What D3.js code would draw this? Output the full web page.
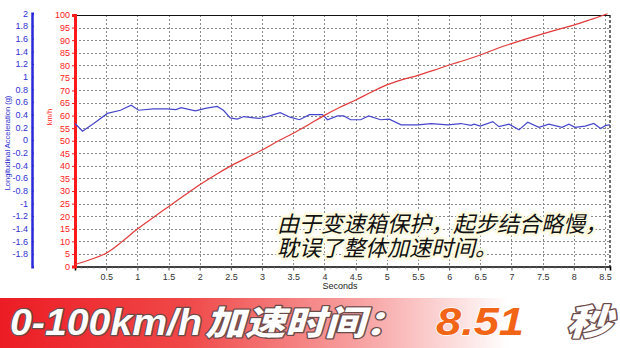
<!DOCTYPE html>
<html>
<head>
<meta charset="utf-8">
<script src="https://cdn.jsdelivr.net/npm/d3@7"></script>
<style>
  body { margin: 0; background: #fff; }
  svg { display: block; }
</style>
</head>
<body>
<div id="chart-area"></div>
<script>
// speed trace (km/h) against time (s)
const speedT = [0, 0.25, 0.5, 0.75, 1, 1.25, 1.5, 1.75, 2, 2.25, 2.5, 2.75, 3, 3.25, 3.5, 3.75, 4, 4.25, 4.5,
  4.75, 5, 5.25, 5.5, 5.75, 6, 6.25, 6.5, 6.75, 7, 7.25, 7.5, 7.75, 8, 8.25, 8.54];
const speedV = [0.8, 2.8, 5.3, 9.8, 14.9, 19.4, 23.8, 28.2, 32.5, 36.4, 40, 43.2, 46.3, 49.8, 53, 56.5, 60.1, 63.3, 66.2,
  69.3, 72.2, 74.3, 76, 78, 80.1, 82, 84.1, 86.5, 88.6, 90.6, 92.5, 94.3, 96, 98, 100.5];

// longitudinal acceleration (g) against time (s)
const accelT = [0, 0.12, 0.3, 0.52, 0.73, 0.9, 1.02, 1.26, 1.47, 1.62, 1.7, 1.93, 2.09, 2.28, 2.38, 2.49, 2.6, 2.71,
  2.96, 3.12, 3.29, 3.45, 3.6, 3.76, 3.97, 4.05, 4.21, 4.31, 4.42, 4.58, 4.71, 4.9, 5.04, 5.23, 5.5, 5.71, 5.98,
  6.19, 6.35, 6.4, 6.5, 6.7, 6.8, 6.96, 7.12, 7.26, 7.44, 7.6, 7.81, 7.92, 8.02, 8.18, 8.32, 8.43, 8.51, 8.58];
const accelG = [0.26, 0.14, 0.26, 0.42, 0.47, 0.55, 0.47, 0.49, 0.49, 0.48, 0.51, 0.46, 0.5, 0.53, 0.47, 0.35, 0.33, 0.37,
  0.34, 0.38, 0.43, 0.36, 0.32, 0.4, 0.4, 0.32, 0.38, 0.38, 0.32, 0.32, 0.38, 0.32, 0.33, 0.24, 0.24, 0.26, 0.24,
  0.26, 0.23, 0.25, 0.22, 0.29, 0.21, 0.25, 0.16, 0.28, 0.2, 0.25, 0.2, 0.25, 0.2, 0.22, 0.26, 0.18, 0.23, 0.24];

const timeTicks = [0.5, 1, 1.5, 2, 2.5, 3, 3.5, 4, 4.5, 5, 5.5, 6, 6.5, 7, 7.5, 8, 8.5];
const speedTicks = d3.range(0, 101, 5);
const accelTicks = d3.range(-20, 21, 2).map(d => d / 10);

const noteLines = ["由于变速箱保护，起步结合略慢，", "耽误了整体加速时间。"];
const bannerParts = ["0-100km/h", "加速时间：", "8.51", "秒"];

const W = 620, H = 348;
const plot = {left: 75, right: 610, top: 15, bottom: 266.5};
const axisFont = "Liberation Sans, Arial, sans-serif";

const svg = d3.select("#chart-area").append("svg")
    .attr("width", W)
    .attr("height", H);

const x = d3.scaleLinear().domain([0, 8.58]).range([plot.left, plot.right]);
const ySpeed = d3.scaleLinear().domain([0, 100]).range([plot.bottom, plot.top]);
const yAcc = d3.scaleLinear().domain([-2, 2]).range([266.7, 13.3]);

// plain hyphen minus like the original software
const plainFmt = d => String(d).replace("\u2212", "-");

// dotted grid
const grid = svg.append("g").attr("stroke", "#8a8a8a").attr("stroke-width", 1).attr("stroke-dasharray", "2,2");
grid.selectAll("line.v").data(timeTicks).join("line")
    .attr("x1", d => Math.round(x(d)) + 0.5).attr("x2", d => Math.round(x(d)) + 0.5)
    .attr("y1", plot.top).attr("y2", plot.bottom);
grid.selectAll("line.h").data(speedTicks.slice(1, -1)).join("line")
    .attr("x1", plot.left).attr("x2", plot.right)
    .attr("y1", d => Math.round(ySpeed(d)) + 0.5).attr("y2", d => Math.round(ySpeed(d)) + 0.5);

// frame: top solid, right dashed
svg.append("line").attr("x1", plot.left).attr("x2", plot.right).attr("y1", plot.top + 0.5).attr("y2", plot.top + 0.5)
    .attr("stroke", "#111").attr("stroke-width", 1.2);
svg.append("line").attr("x1", plot.right).attr("x2", plot.right).attr("y1", plot.top).attr("y2", plot.bottom)
    .attr("stroke", "#222").attr("stroke-width", 1.3).attr("stroke-dasharray", "3,2");

// bottom axis (seconds)
const xAxis = svg.append("g").attr("transform", `translate(0,${plot.bottom})`)
    .call(d3.axisBottom(x).tickValues(timeTicks).tickSize(4).tickPadding(3).tickFormat(d3.format("")));
xAxis.select(".domain").attr("stroke", "#000").attr("stroke-width", 1.6);
xAxis.selectAll("text").attr("font-family", axisFont).attr("font-size", 9).attr("fill", "#333");
xAxis.selectAll("line").attr("stroke", "#555");
svg.append("g").selectAll("line").data(d3.range(1, 86)).join("line")
    .attr("x1", d => x(d / 10)).attr("x2", d => x(d / 10))
    .attr("y1", plot.bottom).attr("y2", plot.bottom + 2)
    .attr("stroke", "#666").attr("stroke-width", 0.8);
svg.append("text").attr("x", 340).attr("y", 289).attr("text-anchor", "middle")
    .attr("font-family", axisFont).attr("font-size", 9).attr("fill", "#222")
    .text("Seconds");

// red speed axis
const rAxis = svg.append("g").attr("transform", `translate(${plot.left},0)`)
    .call(d3.axisLeft(ySpeed).tickValues(speedTicks).tickSize(3).tickPadding(2));
rAxis.select(".domain").attr("stroke", "#ff1a1a").attr("stroke-width", 3);
rAxis.selectAll("line").attr("stroke", "#ff1a1a");
rAxis.selectAll("text").attr("font-family", axisFont).attr("font-size", 9).attr("fill", "#ff2020");
svg.append("text").attr("transform", "translate(52,117) rotate(-90)").attr("text-anchor", "middle")
    .attr("font-family", axisFont).attr("font-size", 7.5).attr("fill", "#ff2020")
    .text("km/h");

// blue acceleration axis
const bAxis = svg.append("g").attr("transform", "translate(32,0)")
    .call(d3.axisLeft(yAcc).tickValues(accelTicks).tickSize(-2).tickPadding(4)
      .tickFormat(d => d === -2 ? "" : plainFmt(d3.format("")(d))));
bAxis.select(".domain").attr("stroke", "#2a2ad8").attr("stroke-width", 2.5);
bAxis.selectAll("line").attr("stroke", "#2a2ad8");
bAxis.selectAll("text").attr("font-family", axisFont).attr("font-size", 9).attr("fill", "#3030d0");
svg.append("text").attr("transform", "translate(10,143) rotate(-90)").attr("text-anchor", "middle")
    .attr("font-family", axisFont).attr("font-size", 7.5).attr("fill", "#3030d0")
    .text("Longitudinal Acceleration (g)");

// traces
svg.append("path").datum(accelT.map((t, i) => [t, accelG[i]]))
    .attr("fill", "none").attr("stroke", "#4646cc").attr("stroke-width", 1.2)
    .attr("d", d3.line().x(d => x(d[0])).y(d => yAcc(d[1])));
svg.append("path").datum(speedT.map((t, i) => [t, speedV[i]]))
    .attr("fill", "none").attr("stroke", "#e23a3a").attr("stroke-width", 1.2)
    .attr("d", d3.line().curve(d3.curveMonotoneX).x(d => x(d[0])).y(d => ySpeed(d[1])));

// annotation, one text block with two lines
svg.append("text")
    .attr("font-family", "Noto Sans CJK SC, sans-serif").attr("font-size", 22).attr("font-style", "italic")
    .attr("fill", "#111").attr("stroke", "#fffbe0").attr("stroke-width", 5).attr("stroke-linejoin", "round")
    .attr("paint-order", "stroke")
  .selectAll("tspan").data(noteLines).join("tspan")
    .attr("x", 277).attr("y", (d, i) => 232 + i * 24)
    .text(d => d);

// banner
const grad = svg.append("defs").append("linearGradient").attr("id", "bannerGrad");
grad.selectAll("stop").data([[0, "#ec1c24"], [0.3, "#f04848"], [0.6, "#f8a8a8"], [0.82, "#ffffff"]]).join("stop")
    .attr("offset", d => d[0]).attr("stop-color", d => d[1]);
svg.append("rect").attr("x", 0).attr("y", 298).attr("width", W).attr("height", 50).attr("fill", "url(#bannerGrad)");

const bannerSpec = [
  {x: 10, len: 192, size: 36, fill: "#fff", font: axisFont},
  {x: 205, len: 200, size: 34, fill: "#fff", font: "Noto Sans CJK SC, sans-serif"},
  {x: 436, len: 88, size: 38, fill: "#f26416", font: axisFont},
  {x: 566, len: 46, size: 36, fill: "#fff", font: "Noto Sans CJK SC, sans-serif"}
];
svg.append("g").selectAll("text").data(bannerParts).join("text")
    .attr("x", (d, i) => bannerSpec[i].x).attr("y", 335)
    .attr("textLength", (d, i) => bannerSpec[i].len).attr("lengthAdjust", "spacingAndGlyphs")
    .attr("font-family", (d, i) => bannerSpec[i].font).attr("font-size", (d, i) => bannerSpec[i].size)
    .attr("font-weight", 900).attr("font-style", "italic")
    .attr("fill", (d, i) => bannerSpec[i].fill)
    .attr("stroke", (d, i) => i === 2 ? "#fff" : "#6b4a4a").attr("stroke-width", (d, i) => i === 2 ? 1.5 : 2.5)
    .attr("stroke-linejoin", "round").attr("paint-order", "stroke")
    .text(d => d);
</script>
</body>
</html>
